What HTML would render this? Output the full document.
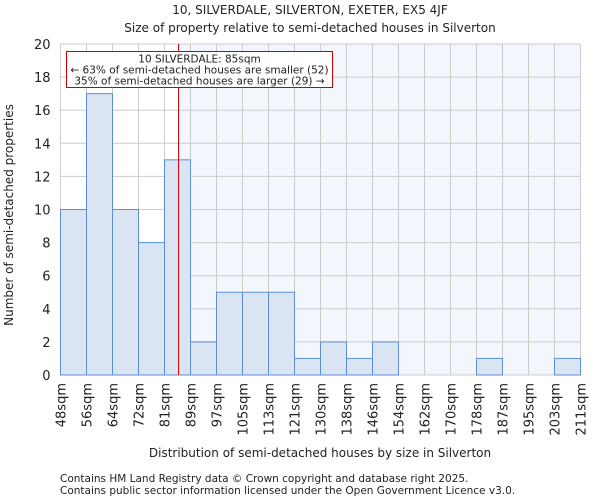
<!DOCTYPE html>
<html><head><meta charset="utf-8"><style>
body{margin:0;background:#fff;font-family:"DejaVu Sans","Liberation Sans",sans-serif}
svg text{font-family:"DejaVu Sans","Liberation Sans",sans-serif;fill:#222}
</style></head><body>
<svg id="chart" width="600" height="500" xmlns="http://www.w3.org/2000/svg">
<text x="310" y="14" font-size="12" text-anchor="middle">10, SILVERDALE, SILVERTON, EXETER, EX5 4JF</text>
<text x="310" y="32" font-size="12" text-anchor="middle">Size of property relative to semi-detached houses in Silverton</text>
<g id="plot"></g>
<text x="320" y="457" font-size="12" text-anchor="middle">Distribution of semi-detached houses by size in Silverton</text>
<text transform="translate(13,215) rotate(-90)" font-size="12" text-anchor="middle">Number of semi-detached properties</text>
<text x="60" y="482" font-size="10.5" fill="#444">Contains HM Land Registry data © Crown copyright and database right 2025.</text>
<text x="60" y="494" font-size="10.5" fill="#444">Contains public sector information licensed under the Open Government Licence v3.0.</text>
</svg>
<script>
const binLabels=["48sqm","56sqm","64sqm","72sqm","81sqm","89sqm","97sqm","105sqm","113sqm","121sqm","130sqm","138sqm","146sqm","154sqm","162sqm","170sqm","178sqm","187sqm","195sqm","203sqm","211sqm"];
const counts=[10,17,10,8,13,2,5,5,5,1,2,1,2,0,0,0,1,0,0,1];
const yTicks=[0,2,4,6,8,10,12,14,16,18,20];
const subjectSize=85;
const minSize=48, maxSize=211;
const X0=60.5,X1=580.5,Y0=375,Y1=44,YMAX=20;
const nb=counts.length, bw=(X1-X0)/nb;
const xb=i=>X0+i*bw;
const xs=v=>X0+(v-minSize)/(maxSize-minSize)*(X1-X0);
const ys=v=>Y0-(v/YMAX)*(Y0-Y1);
const NS="http://www.w3.org/2000/svg";
const g=document.getElementById('plot');
function mk(t,a){const e=document.createElementNS(NS,t);for(const k in a)e.setAttribute(k,a[k]);g.appendChild(e);return e;}
const rx=xs(subjectSize);
let e=mk('rect',{x:rx,y:Y1,width:X1-rx,height:Y0-Y1,fill:'#f3f6fd'});


for(const t of yTicks){e=mk('line',{x1:X0,x2:X1,y1:ys(t),y2:ys(t),stroke:'#ccc','stroke-width':1});


e=mk('text',{x:X0-10,y:ys(t)+5,'font-size':13,'text-anchor':'end'});e.textContent=t;

}
for(let i=0;i<=nb;i++){e=mk('line',{x1:xb(i),x2:xb(i),y1:Y1,y2:Y0,stroke:'#ccc','stroke-width':1});


e=mk('text',{transform:`translate(${xb(i)+5},${Y0+8}) rotate(-90)`,'font-size':13,'text-anchor':'end'});e.textContent=binLabels[i];

}
counts.forEach((c,i)=>{if(c<=0)return;e=mk('rect',{x:xb(i),y:ys(c),width:bw,height:Y0-ys(c),fill:'#dae4f3',stroke:'#5b8fd6','stroke-width':1});

});
e=mk('line',{x1:rx,x2:rx,y1:Y1,y2:Y0,stroke:'#d00','stroke-width':1});


e=mk('rect',{x:66.5,y:51.5,width:266,height:36,fill:'#fff',stroke:'#c00','stroke-width':1});


const ann=["10 SILVERDALE: 85sqm","← 63% of semi-detached houses are smaller (52)","35% of semi-detached houses are larger (29) →"];
ann.forEach((s,i)=>{e=mk('text',{x:199.5,y:62.5+i*11,'font-size':10.5,'text-anchor':'middle'});e.textContent=s;

});
</script>
</body></html>
